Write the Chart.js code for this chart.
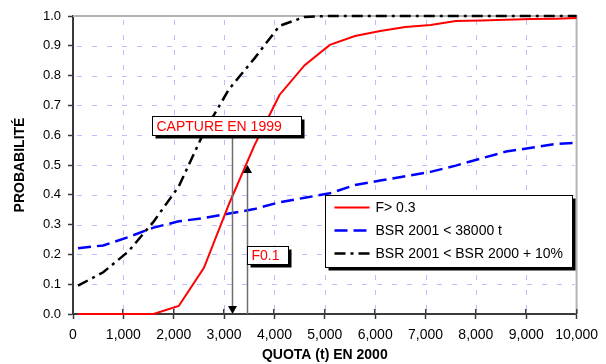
<!DOCTYPE html>
<html><head><meta charset="utf-8">
<script src="https://cdn.jsdelivr.net/npm/chart.js@4.4.1/dist/chart.umd.min.js"></script>
<style>html,body{margin:0;padding:0;background:#fff;}</style>
</head><body>
<canvas id="c" width="606" height="364" style="display:block"></canvas>
<script>
// ---- data ----
const quotas = [100,600,1100,1600,2100,2600,3100,3600,4100,4600,5100,5600,6100,6600,7100,7600,8100,8600,9100,9600,10000];
const probF03 = [0,0,0,0,0.027,0.155,0.37,0.565,0.735,0.835,0.903,0.933,0.95,0.963,0.97,0.983,0.985,0.987,0.99,0.991,0.993];
const probBsr38000 = [0.221,0.23,0.258,0.29,0.311,0.322,0.337,0.352,0.375,0.39,0.405,0.433,0.448,0.462,0.477,0.498,0.522,0.545,0.558,0.571,0.575];
const probBsr10pct = [0.095,0.14,0.21,0.31,0.428,0.61,0.755,0.857,0.967,0.997,1,1,1,1,1,1,1,1,1,1,1];
const seriesLabels = ['F> 0.3','BSR 2001 < 38000 t','BSR 2001 < BSR 2000 + 10%'];
const xAxisTitle = 'QUOTA (t) EN 2000';
const yAxisTitle = 'PROBABILITÉ';
const captureLabel = 'CAPTURE EN 1999';
const f01Label = 'F0.1';
const captureQuota1999 = 3155;   // quota of the 1999 catch (down arrow)
const f01Quota = 3465;           // F0.1 quota (up arrow)
const f01ArrowProb = 0.5;

// annotation anchors (in data units)
const captureBox = {x0:1570, x1:4530, y0:0.665, y1:0.600};
const f01Box = {x0:3450, x1:4270, y0:0.228, y1:0.168};
const legendBox = {x0:5000, x1:9900, y0:0.400, y1:0.158};

const FONT = "'Liberation Sans', Arial, sans-serif";
const gridColor = '#bcbcff';
const axisColor = '#3a3a3a';

function pts(ys){ return quotas.map((q,i)=>({x:q, y:ys[i]})); }

const overlay = {
  id:'overlay',
  beforeDatasetsDraw(chart){
    const ctx = chart.ctx, a = chart.chartArea;
    const xs = chart.scales.x, ys = chart.scales.y;
    ctx.save();
    // dashed grid (explicit dash rectangles)
    ctx.fillStyle = gridColor;
    for (let v = 1000; v < 10000; v += 1000) {
      const px = Math.round(xs.getPixelForValue(v));
      for (let y = a.top + 4; y < a.bottom - 2; y += 15) ctx.fillRect(px, y, 1, Math.min(5, a.bottom - 2 - y));
    }
    for (let k = 1; k < 10; k++) {
      const py = Math.round(ys.getPixelForValue(k/10));
      for (let x = a.left + 4; x < a.right - 2; x += 15) ctx.fillRect(x, py, Math.min(5, a.right - 2 - x), 1);
    }
    // frame top/right
    ctx.fillStyle = '#b4b4b4';
    ctx.fillRect(a.left, a.top - 1, a.right - a.left, 2);
    ctx.fillRect(a.right - 1, a.top - 1, 2, a.bottom - a.top + 1);
    // inner part of x ticks
    ctx.fillStyle = axisColor;
    for (let v = 0; v <= 10000; v += 1000) {
      const px = Math.round(xs.getPixelForValue(v));
      ctx.fillRect(px - 1, a.bottom - 5, 1.5, 5);
    }
    ctx.restore();
  },
  afterDatasetsDraw(chart){
    const {ctx} = chart;
    const xs = chart.scales.x, ys = chart.scales.y;
    const X = v=>xs.getPixelForValue(v), Y = v=>ys.getPixelForValue(v);
    ctx.save();
    function box(b, text, color){
      const x0=Math.round(X(b.x0))+0.5, x1=Math.round(X(b.x1))+0.5, y0=Math.round(Y(b.y0))+0.5, y1=Math.round(Y(b.y1))+0.5;
      ctx.fillStyle='#000';
      ctx.fillRect(x0+3, y0+3, x1-x0, y1-y0);
      ctx.fillStyle='#fff';
      ctx.fillRect(x0, y0, x1-x0, y1-y0);
      ctx.strokeStyle='#000'; ctx.lineWidth=1;
      ctx.strokeRect(x0, y0, x1-x0, y1-y0);
      if(text){
        ctx.fillStyle=color; ctx.font='14px '+FONT; ctx.textBaseline='middle'; ctx.textAlign='left';
        ctx.fillText(text, x0+4, (y0+y1)/2+1);
      }
      return {x0,x1,y0,y1};
    }
    // capture line + down arrow
    const cx = Math.round(X(captureQuota1999))+0.5;
    const cby = Y(captureBox.y1);
    const bottom = Y(0);
    ctx.strokeStyle='#6e6e6e'; ctx.lineWidth=1.5;
    ctx.beginPath(); ctx.moveTo(cx, cby); ctx.lineTo(cx, bottom-6); ctx.stroke();
    ctx.fillStyle='#000';
    ctx.beginPath(); ctx.moveTo(cx-4.5, bottom-8); ctx.lineTo(cx+4.5, bottom-8); ctx.lineTo(cx, bottom); ctx.closePath(); ctx.fill();
    // F0.1 line + up arrow
    const fx = Math.round(X(f01Quota))+0.5;
    const top = Y(f01ArrowProb);
    ctx.strokeStyle='#6e6e6e';
    ctx.beginPath(); ctx.moveTo(fx, bottom); ctx.lineTo(fx, top+6); ctx.stroke();
    ctx.fillStyle='#000';
    ctx.beginPath(); ctx.moveTo(fx-4.5, top+8); ctx.lineTo(fx+4.5, top+8); ctx.lineTo(fx, top); ctx.closePath(); ctx.fill();
    box(captureBox, captureLabel, '#ff0000');
    box(f01Box, f01Label, '#ff0000');
    // legend
    const lb = box(legendBox, null);
    const rowY = [12, 35, 58];
    chart.data.datasets.forEach((ds,i)=>{
      const y = lb.y0 + rowY[i];
      ctx.save();
      ctx.strokeStyle = ds.borderColor; ctx.lineWidth = ds.borderWidth;
      ctx.setLineDash(ds.borderDash||[]);
      ctx.beginPath(); ctx.moveTo(lb.x0+9, y); ctx.lineTo(lb.x0+44, y); ctx.stroke();
      ctx.restore();
      ctx.fillStyle='#000'; ctx.font='14px '+FONT; ctx.textBaseline='middle'; ctx.textAlign='left';
      ctx.fillText(ds.label, lb.x0+50, y+1);
    });
    ctx.restore();
  }
};

new Chart(document.getElementById('c'), {
  type:'line',
  data:{ datasets:[
    {label:seriesLabels[0], data:pts(probF03), borderColor:'#ff0000', borderWidth:2, pointRadius:0, tension:0, clip:false, fill:false},
    {label:seriesLabels[1], data:pts(probBsr38000), borderColor:'#0000ff', borderWidth:2.5, borderDash:[13,6], pointRadius:0, tension:0, clip:false, fill:false},
    {label:seriesLabels[2], data:pts(probBsr10pct), borderColor:'#000000', borderWidth:2.5, borderDash:[11,5,3,5], pointRadius:0, tension:0, clip:false, fill:false}
  ]},
  options:{
    responsive:false, animation:false, devicePixelRatio:1,
    layout:{padding:{top:16, right:25, left:0, bottom:0}},
    plugins:{legend:{display:false}, tooltip:{enabled:false}},
    scales:{
      x:{
        type:'linear', min:0, max:10000,
        afterFit(s){ s.height = 50; },
        ticks:{stepSize:1000, color:'#000', font:{family:FONT, size:14}, padding:8, maxRotation:0,
          callback:v=>v.toLocaleString('en-US')},
        grid:{drawOnChartArea:false, drawTicks:true, tickLength:5, tickColor:axisColor, tickWidth:1.5},
        border:{display:true, color:axisColor, width:2},
        title:{display:true, text:xAxisTitle, color:'#000', font:{family:FONT, size:14, weight:'bold'}, padding:{top:0,bottom:0}}
      },
      y:{
        type:'linear', min:0, max:1,
        afterFit(s){ s.width = 73; },
        ticks:{stepSize:0.1, color:'#000', font:{family:FONT, size:13}, padding:7,
          callback:v=>v.toFixed(1)},
        grid:{drawOnChartArea:false, drawTicks:true, tickLength:5, tickColor:axisColor, tickWidth:1.5},
        border:{display:true, color:axisColor, width:2},
        title:{display:true, text:yAxisTitle, color:'#000', font:{family:FONT, size:14, weight:'bold'}, padding:{top:12,bottom:0}}
      }
    }
  },
  plugins:[overlay]
});
</script>
</body></html>
